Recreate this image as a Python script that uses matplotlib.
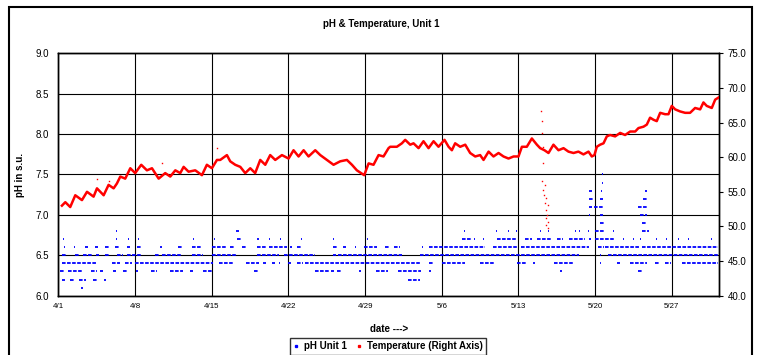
import numpy as np
import matplotlib
matplotlib.use('Agg')
import matplotlib.pyplot as plt
from matplotlib.lines import Line2D
from matplotlib.patches import Rectangle

plt.rcParams['font.family'] = ['Liberation Sans', 'DejaVu Sans']

# x values are days after 4/1
tick_days = [0, 7, 14, 21, 28, 35, 42, 49, 56]
tick_labels = ['4/1', '4/8', '4/15', '4/22', '4/29', '5/6', '5/13', '5/20', '5/27']

# temperature (right axis)
temp_days = [0.33, 0.64, 1.09, 1.55, 2.16, 2.62, 3.22, 3.53, 4.14, 4.59, 5.05, 5.35, 5.66,
             6.11, 6.57, 7.02, 7.57, 8.09, 8.55, 9.16, 9.76, 10.22, 10.68, 11.13, 11.44,
             11.89, 12.5, 13.11, 13.56, 14.02, 14.48, 14.78, 15.39, 15.69, 16.15, 16.61,
             17.06, 17.52, 17.97, 18.43, 18.89, 19.34, 19.8, 20.41, 21.02, 21.47, 21.93,
             22.39, 22.84, 23.45, 23.91, 24.51, 25.12, 25.73, 26.34, 26.8, 27.25, 27.92,
             28.32, 28.77, 29.23, 29.68, 30.14, 30.29, 30.9, 31.36, 31.66, 32.12, 32.42,
             32.88, 33.33, 33.79, 34.25, 34.7, 35.25, 35.62, 35.92, 36.22, 36.68, 37.14,
             37.59, 38.05, 38.5, 38.81, 39.27, 39.72, 40.18, 40.63, 41.09, 41.55, 42.0,
             42.31, 42.76, 43.22, 43.68, 43.98, 44.37, 44.74, 45.19, 45.65, 46.11, 46.56,
             47.02, 47.47, 47.93, 48.39, 48.69, 48.93, 49.15, 49.45, 49.76, 50.06, 50.36,
             50.82, 51.28, 51.73, 52.19, 52.65, 52.95, 53.41, 53.71, 54.01, 54.32, 54.62,
             54.93, 55.38, 55.69, 55.99, 56.3, 56.75, 57.21, 57.66, 58.12, 58.58, 58.88,
             59.18, 59.64, 59.95, 60.25]
temp_vals = [53.0, 53.5, 52.8, 54.5, 53.8, 55.0, 54.3, 55.5, 54.5, 56.0, 55.5, 56.2, 57.2,
             56.9, 58.4, 57.7, 58.9, 58.1, 58.4, 56.9, 57.7, 57.2, 58.1, 57.7, 58.6,
             57.9, 58.1, 57.4, 58.9, 58.4, 59.6, 59.6, 60.3, 59.4, 58.9, 58.6,
             57.7, 58.4, 57.7, 59.6, 58.9, 60.3, 59.6, 60.3, 59.8, 61.0, 60.1,
             61.0, 60.1, 61.0, 60.3, 59.6, 58.9, 59.4, 59.6, 58.9, 58.1, 57.4,
             59.1, 58.9, 60.3, 60.1, 61.3, 61.5, 61.5, 62.0, 62.5, 61.8, 62.0,
             61.3, 62.3, 61.3, 62.3, 61.5, 62.5, 61.5, 61.0, 62.0, 61.5, 61.8,
             60.6, 60.1, 60.3, 59.6, 60.8, 60.1, 60.6, 60.1, 59.8, 60.1, 60.1,
             61.5, 61.5, 62.7, 61.8, 61.3, 61.0, 60.6, 61.8, 61.0, 61.3, 60.8,
             60.6, 60.8, 60.4, 60.8, 60.1, 60.3, 61.5, 61.8, 62.0, 63.0, 63.2,
             63.0, 63.5, 63.2, 63.7, 63.7, 64.2, 64.4, 64.7, 65.7, 65.4, 65.2,
             66.4, 66.2, 66.2, 67.4, 66.9, 66.6, 66.4, 66.4, 67.1, 66.9, 67.9,
             67.4, 67.1, 68.3, 68.6]

# stray temperature readings (mid-May drop and a few high points)
stray_days = [3.53, 4.59, 9.5, 14.45, 44.07, 44.13, 44.18, 44.22, 44.28, 44.16, 44.38,
              44.23, 44.29, 44.53, 44.38, 44.68, 44.47, 44.59, 44.53, 44.68, 44.53, 44.68]
stray_vals = [56.8, 56.6, 59.1, 61.3, 66.6, 65.2, 63.5, 61.5, 59.2, 56.5, 56.0,
              55.3, 54.6, 54.1, 53.4, 53.1, 52.4, 51.7, 51.2, 50.7, 50.2, 49.8]

# pH readings come in 0.1 steps; spans of days where each level was logged
runs_61 = [(2.1, 2.3)]
runs_62 = [(0.3, 0.6), (1.06, 1.43), (1.9, 2.5), (3.2, 3.5), (4.15, 4.35), (31.9, 33.0)]
runs_63 = [(0.2, 0.6), (0.9, 2.2), (3.0, 3.5), (3.8, 4.1), (5.0, 5.3), (5.9, 6.4), (7.1, 7.3),
           (8.5, 9.0), (10.2, 11.4), (12.0, 12.3), (13.2, 14.1), (17.9, 18.2), (23.4, 24.8),
           (24.9, 25.2), (25.4, 25.8), (27.4, 27.6), (29.0, 30.1), (31.0, 33.1), (33.8, 34.0),
           (45.8, 46.0), (52.9, 53.3)]
runs_64 = [(0.3, 3.5), (4.9, 5.6), (6.1, 6.7), (7.0, 14.1), (14.7, 16.0), (17.1, 18.3),
           (18.7, 19.0), (19.5, 19.8), (20.1, 20.25), (21.0, 21.2), (21.8, 22.3), (22.5, 33.1),
           (33.8, 34.3), (35.0, 37.1), (38.5, 39.8), (41.9, 42.8), (43.3, 43.5), (45.2, 47.0),
           (49.4, 49.55), (51.0, 51.3), (52.2, 53.7), (54.5, 54.9), (55.4, 55.9), (56.9, 60.2)]
runs_65 = [(0.33, 0.8), (1.55, 1.85), (2.3, 3.1), (3.4, 3.7), (4.3, 4.6), (5.35, 5.95),
           (6.25, 7.6), (8.85, 9.15), (9.45, 11.3), (12.2, 13.25), (14.0, 16.3), (18.1, 20.1),
           (20.6, 23.4), (25.1, 25.3), (25.5, 31.4), (33.0, 47.5), (49.4, 49.55), (50.2, 60.2)]
runs_66 = [(0.5, 0.65), (1.4, 1.55), (2.45, 2.75), (3.35, 3.6), (4.3, 4.75), (5.2, 5.65),
           (6.25, 6.55), (7.2, 7.6), (9.3, 9.5), (10.95, 11.3), (12.2, 13.1), (14.0, 15.4),
           (15.7, 16.15), (16.75, 17.1), (18.1, 19.0), (19.2, 20.9), (21.15, 21.3), (21.8, 22.2),
           (25.1, 25.4), (26.0, 26.3), (27.05, 27.2), (27.9, 29.1), (29.8, 30.3), (30.6, 31.2),
           (33.15, 33.3), (33.8, 38.9), (39.7, 42.0), (42.2, 48.4), (49.3, 49.8), (49.9, 53.0),
           (53.3, 60.2)]
runs_67 = [(0.45, 0.55), (5.3, 5.4), (6.35, 6.45), (7.25, 7.35), (12.25, 12.35), (14.2, 14.3),
           (16.3, 16.8), (18.1, 18.3), (19.2, 19.35), (20.25, 20.35), (22.15, 22.25),
           (25.05, 25.15), (28.15, 28.25), (36.8, 37.7), (37.9, 38.05), (38.75, 38.85),
           (40.0, 41.85), (42.6, 43.2), (43.7, 45.1), (45.5, 46.1), (46.6, 48.1), (48.4, 48.6),
           (49.0, 50.8), (51.55, 51.65), (52.45, 52.55), (53.05, 53.15), (54.55, 54.65),
           (55.45, 55.55), (56.55, 56.65), (57.45, 57.55), (59.55, 59.65)]
runs_68 = [(5.3, 5.4), (16.25, 16.5), (37.05, 37.15), (39.95, 40.05), (41.05, 41.15),
           (41.75, 41.85), (43.95, 44.05), (44.65, 44.75), (47.15, 47.25), (47.55, 47.65),
           (48.35, 48.45), (49.0, 49.9), (50.65, 50.75), (53.3, 53.9)]
runs_69 = [(49.4, 49.8), (53.3, 53.7)]
runs_70 = [(48.4, 48.55), (49.45, 49.7), (53.1, 53.7)]
runs_71 = [(48.4, 48.7), (48.85, 49.75), (52.95, 53.7)]
runs_72 = [(48.4, 48.85), (49.45, 49.75), (53.4, 53.7)]
runs_73 = [(48.4, 48.7), (49.55, 49.65), (53.55, 53.7)]
runs_74 = [(49.65, 49.75)]
runs_75 = [(49.65, 49.75)]

ph_levels = [6.1, 6.2, 6.3, 6.4, 6.5, 6.6, 6.7, 6.8, 6.9, 7.0, 7.1, 7.2, 7.3, 7.4, 7.5]
ph_runs = [runs_61, runs_62, runs_63, runs_64, runs_65, runs_66, runs_67, runs_68,
           runs_69, runs_70, runs_71, runs_72, runs_73, runs_74, runs_75]

fig = plt.figure(figsize=(7.59, 3.55), dpi=100)
ax = fig.add_axes([0.0768, 0.167, 0.8705, 0.683])
ax2 = ax.twinx()

# outer chart border
fig.add_artist(Rectangle((0.0123, -0.05), 0.978, 1.031, transform=fig.transFigure,
                         fill=False, edgecolor='black', lw=1.5, clip_on=False))

for lvl, runs in zip(ph_levels, ph_runs):
    starts = [r[0] for r in runs]
    ends = [r[1] for r in runs]
    ax.hlines([lvl] * len(runs), starts, ends, colors='#0000ff', lw=1.3,
              linestyles=[(0, (2, 0.8))], zorder=3)

ax2.plot(temp_days, temp_vals, color='#ff0000', lw=1.8, zorder=3)
ax2.plot(stray_days, stray_vals, ls='none', marker='s', ms=1.0, mew=0, color='#ff0000', zorder=3)

ax.set_xlim(0, 60.3)
ax.set_ylim(6, 9)
ax.set_yticks(np.arange(6, 9.01, 0.5))
ax.set_yticklabels(['%.1f' % v for v in np.arange(6, 9.01, 0.5)])
ax.set_xticks(tick_days)
ax.set_xticklabels(tick_labels, fontsize=5.7)
ax.tick_params(axis='y', labelsize=7, length=0, pad=7)
ax.tick_params(axis='x', length=0, pad=5)
ax.grid(True, color='black', lw=0.8)
ax.set_axisbelow(True)

ax2.set_ylim(40, 75)
ax2.set_yticks(range(40, 76, 5))
ax2.set_yticklabels(['%.1f' % v for v in range(40, 76, 5)])
ax2.tick_params(axis='y', labelsize=7, length=3, pad=3)

for a in (ax, ax2):
    for s in a.spines.values():
        s.set_color('black')
        s.set_linewidth(1.0)

ax.set_ylabel('pH in s.u.', fontsize=7, fontweight='bold', labelpad=7)
ax.set_xlabel('date --->', fontsize=7, fontweight='bold', labelpad=10)
fig.text(0.5027, 0.932, 'pH & Temperature, Unit 1', ha='center', va='center',
         fontsize=7, fontweight='bold')

handles = [Line2D([0], [0], ls='none', marker='s', ms=1.4, color='#0000ff', label='pH Unit 1'),
           Line2D([0], [0], ls='none', marker='s', ms=1.4, color='#ff0000',
                  label='Temperature (Right Axis)')]
leg = fig.legend(handles=handles, loc='upper center', bbox_to_anchor=(0.511, 0.048),
                 ncol=2, prop={'weight': 'bold', 'size': 7}, frameon=True,
                 fancybox=False, handlelength=0.6, handletextpad=0.5, columnspacing=1.0,
                 borderpad=0.35, borderaxespad=0)
leg.get_frame().set_edgecolor('black')
leg.get_frame().set_linewidth(1.0)

fig.savefig('out.png', dpi=100)
